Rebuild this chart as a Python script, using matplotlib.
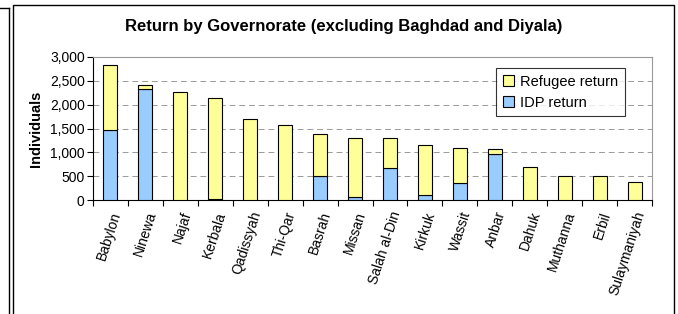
import matplotlib
matplotlib.use("Agg")
import matplotlib.pyplot as plt
from matplotlib.patches import Rectangle
from matplotlib.lines import Line2D

plt.rcParams['font.family'] = ['Liberation Sans', 'DejaVu Sans']

governorates = ['Babylon', 'Ninewa', 'Najaf', 'Kerbala', 'Qadissyah', 'Thi-Qar',
                'Basrah', 'Missan', 'Salah al-Din', 'Kirkuk', 'Wassit', 'Anbar',
                'Dahuk', 'Muthanna', 'Erbil', 'Sulaymaniyah']
idp_return = [1460, 2330, 0, 20, 0, 0, 500, 55, 680, 105, 350, 975, 0, 0, 10, 10]
refugee_return = [1370, 90, 2260, 2130, 1700, 1580, 880, 1240, 615, 1050, 745, 90,
                  700, 505, 495, 365]

fig = plt.figure(figsize=(6.78, 3.14), dpi=100)
ax = fig.add_axes([93 / 678, 1 - 200 / 314, 559 / 678, 143 / 314])

x = range(len(governorates))
ax.bar(x, idp_return, width=0.4, color='#99CCFF', edgecolor='black', linewidth=0.8,
       label='IDP return', zorder=3)
ax.bar(x, refugee_return, width=0.4, bottom=idp_return, color='#FFFF99',
       edgecolor='black', linewidth=0.8, label='Refugee return', zorder=3)

ax.set_xlim(-0.5, len(governorates) - 0.5)
ax.set_ylim(0, 3000)
ax.set_yticks(range(0, 3001, 500))
ax.set_yticklabels(['{:,}'.format(v) for v in range(0, 3001, 500)], fontsize=10)
ax.yaxis.grid(True, color='#999999', linestyle=(0, (6, 4)), linewidth=0.7, zorder=0)

ax.set_xticks([i - 0.5 for i in range(len(governorates) + 1)])
ax.set_xticklabels([])
ax.set_xticks(list(x), minor=True)
ax.set_xticklabels(governorates, minor=True, rotation=72, ha='right',
                   rotation_mode='anchor', fontsize=10)
ax.tick_params(axis='x', which='minor', length=0, pad=7)
ax.tick_params(axis='x', which='major', length=4, direction='out', width=0.8)
ax.tick_params(axis='y', length=4, width=0.8, direction='out', pad=2)

for side in ['top', 'right']:
    ax.spines[side].set_color('#999999')
    ax.spines[side].set_linewidth(0.8)
for side in ['left', 'bottom']:
    ax.spines[side].set_color('black')
    ax.spines[side].set_linewidth(0.8)

ax.set_ylabel('Individuals', fontsize=10.5, fontweight='bold', labelpad=5)

handles, labels = ax.get_legend_handles_labels()
leg = ax.legend(handles[::-1], labels[::-1], loc='upper right',
                bbox_to_anchor=(625 / 678, 1 - 68 / 314), bbox_transform=fig.transFigure,
                fontsize=10.5, frameon=True, fancybox=False, handlelength=0.8,
                handleheight=0.8, handletextpad=0.4, borderpad=0.45, labelspacing=0.5,
                borderaxespad=0)
leg.get_frame().set_edgecolor('black')
leg.get_frame().set_linewidth(0.8)

fig.text(344 / 678, 1 - 27 / 314, 'Return by Governorate (excluding Baghdad and Diyala)',
         ha='center', va='center', fontsize=12, fontweight='bold')

# chart frame and edge of the neighbouring frame
fig.add_artist(Rectangle((12.5 / 678, -0.05), (674 - 12.5) / 678, 1.05 - 5 / 314,
                         transform=fig.transFigure, fill=False, edgecolor='black',
                         linewidth=1))
fig.add_artist(Line2D([8.5 / 678, 8.5 / 678], [0, 1 - 8 / 314],
                      transform=fig.transFigure, color='black', linewidth=1))
fig.add_artist(Line2D([0, 8.5 / 678], [1 - 8 / 314, 1 - 8 / 314],
                      transform=fig.transFigure, color='black', linewidth=1))

fig.savefig('out.png', dpi=100)
